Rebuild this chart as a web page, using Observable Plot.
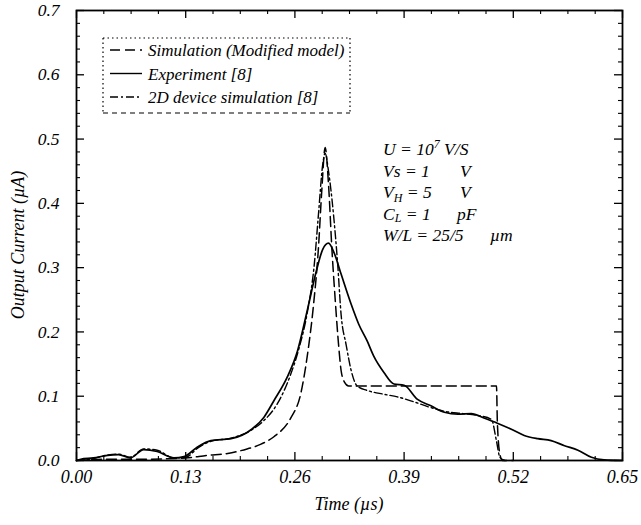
<!DOCTYPE html>
<html>
<head>
<meta charset="utf-8">
<script src="https://cdn.jsdelivr.net/npm/d3@7"></script>
<script src="https://cdn.jsdelivr.net/npm/@observablehq/plot@0.6"></script>
<style>
  html, body { margin: 0; padding: 0; background: #fff; }
  #chart svg { display: block; }
</style>
</head>
<body>
<div id="chart"></div>
<script>
// ---------- data ----------
const xTickValues = [0, 0.13, 0.26, 0.39, 0.52, 0.65];
const xTickLabels = ["0.00", "0.13", "0.26", "0.39", "0.52", "0.65"];
const yTickValues = [0, 0.1, 0.2, 0.3, 0.4, 0.5, 0.6, 0.7];
const yTickLabels = ["0.0", "0.1", "0.2", "0.3", "0.4", "0.5", "0.6", "0.7"];
const xLabel = "Time (µs)";
const yLabel = "Output Current (µA)";
const seriesNames = ["Simulation (Modified model)", "Experiment [8]", "2D device simulation [8]"];

// Simulation (Modified model) - dashed
const simTime = [0, 0.04, 0.08, 0.13, 0.156, 0.18, 0.203, 0.219, 0.235, 0.255, 0.267, 0.275, 0.282, 0.288, 0.292, 0.296, 0.300, 0.304, 0.308, 0.312, 0.315, 0.319, 0.324, 0.50, 0.501, 0.504, 0.507, 0.52];
const simCurrent = [0, 0.002, 0.002, 0.004, 0.008, 0.011, 0.018, 0.025, 0.037, 0.066, 0.104, 0.165, 0.24, 0.33, 0.42, 0.487, 0.43, 0.33, 0.25, 0.18, 0.14, 0.122, 0.116, 0.116, 0.06, 0.01, 0, 0];

// Experiment [8] - solid
const expTime = [0, 0.005, 0.02, 0.037, 0.05, 0.064, 0.08, 0.096, 0.116, 0.128, 0.144, 0.16, 0.184, 0.209, 0.223, 0.235, 0.251, 0.263, 0.275, 0.285, 0.293, 0.300, 0.307, 0.315, 0.327, 0.336, 0.346, 0.354, 0.366, 0.378, 0.390, 0.406, 0.422, 0.438, 0.454, 0.470, 0.485, 0.501, 0.517, 0.533, 0.549, 0.565, 0.581, 0.597, 0.613, 0.628, 0.650];
const expCurrent = [0, 0.002, 0.004, 0.008, 0.009, 0.004, 0.017, 0.014, 0.004, 0.006, 0.021, 0.031, 0.034, 0.049, 0.067, 0.093, 0.13, 0.17, 0.235, 0.292, 0.328, 0.338, 0.322, 0.29, 0.243, 0.212, 0.186, 0.162, 0.137, 0.119, 0.117, 0.095, 0.085, 0.075, 0.072, 0.073, 0.066, 0.058, 0.049, 0.039, 0.034, 0.031, 0.023, 0.016, 0.005, 0.001, 0];

// 2D device simulation [8] - dash-dot
const devTime = [0, 0.02, 0.035, 0.05, 0.064, 0.08, 0.096, 0.116, 0.13, 0.145, 0.16, 0.185, 0.209, 0.223, 0.239, 0.255, 0.265, 0.275, 0.283, 0.288, 0.293, 0.296, 0.300, 0.306, 0.311, 0.315, 0.321, 0.327, 0.334, 0.346, 0.366, 0.382, 0.400, 0.42, 0.44, 0.46, 0.478, 0.494, 0.500, 0.504, 0.51];
const devCurrent = [0, 0.003, 0.008, 0.01, 0.005, 0.018, 0.016, 0.004, 0.005, 0.02, 0.03, 0.035, 0.048, 0.062, 0.088, 0.134, 0.175, 0.232, 0.304, 0.382, 0.459, 0.478, 0.45, 0.382, 0.304, 0.227, 0.18, 0.14, 0.116, 0.109, 0.103, 0.099, 0.092, 0.083, 0.076, 0.073, 0.07, 0.064, 0.03, 0.005, 0];

const annotationLines = [
  {parts: [["U = 10", 0, false], ["7", -7, true], [" V/S", 7, false]], unit: null},
  {parts: [["Vs = 1", 0, false]], unit: "V"},
  {parts: [["V", 0, false], ["H", 4, true], [" = 5", -4, false]], unit: "V"},
  {parts: [["C", 0, false], ["L", 2, true], [" = 1", -2, false]], unit: "pF"},
  {parts: [["W/L = 25/5", 0, false]], unit: "µm"}
];

// ---------- build ----------
const toRows = (t, v) => t.map((d, i) => ({t: d, v: v[i]}));
const sim = toRows(simTime, simCurrent);
const exp = toRows(expTime, expCurrent);
const dev = toRows(devTime, devCurrent);

const W = 641, H = 525, mL = 76, mR = 19, mT = 10, mB = 65;
const fw = W - mL - mR, fh = H - mT - mB;
const xDom = [0, 0.65], yDom = [0, 0.7];
const majorLen = 8, minorLen = 4;
// tick lengths converted from pixels to data units
const xPer = (xDom[1] - xDom[0]) / fw, yPer = (yDom[1] - yDom[0]) / fh;
const xMinor = d3.range(0, 0.6501, 0.0325).filter(v => !xTickValues.some(m => Math.abs(m - v) < 1e-6));
const yMinor = d3.range(0, 0.7001, 0.02).filter(v => !yTickValues.some(m => Math.abs(m - v) < 1e-6));

const font = "'Liberation Serif', 'Times New Roman', serif";

const plot = Plot.plot({
  width: W, height: H,
  marginLeft: mL, marginRight: mR, marginTop: mT, marginBottom: mB,
  x: {domain: xDom},
  y: {domain: yDom},
  style: {fontFamily: font, fontStyle: "italic", fontSize: "18px", background: "#fff", color: "#000"},
  marks: [
    Plot.axisX({ticks: xTickValues, tickFormat: d => xTickLabels[xTickValues.indexOf(d)], tickSize: 0, tickPadding: 10, label: null, fontSize: 18}),
    Plot.axisY({ticks: yTickValues, tickFormat: d => yTickLabels[yTickValues.indexOf(d)], tickSize: 0, tickPadding: 17, label: null, fontSize: 17.5}),
    // inward ticks on all four sides
    Plot.ruleX(xTickValues, {x: d => d, y1: yDom[0], y2: yDom[0] + majorLen * yPer, stroke: "#000", strokeWidth: 1.3}),
    Plot.ruleX(xTickValues, {x: d => d, y1: yDom[1], y2: yDom[1] - majorLen * yPer, stroke: "#000", strokeWidth: 1.3}),
    Plot.ruleX(xMinor, {x: d => d, y1: yDom[0], y2: yDom[0] + minorLen * yPer, stroke: "#000", strokeWidth: 1.1}),
    Plot.ruleX(xMinor, {x: d => d, y1: yDom[1], y2: yDom[1] - minorLen * yPer, stroke: "#000", strokeWidth: 1.1}),
    Plot.ruleY(yTickValues, {y: d => d, x1: xDom[0], x2: xDom[0] + majorLen * xPer, stroke: "#000", strokeWidth: 1.3}),
    Plot.ruleY(yTickValues, {y: d => d, x1: xDom[1], x2: xDom[1] - majorLen * xPer, stroke: "#000", strokeWidth: 1.3}),
    Plot.ruleY(yMinor, {y: d => d, x1: xDom[0], x2: xDom[0] + minorLen * xPer, stroke: "#000", strokeWidth: 1.1}),
    Plot.ruleY(yMinor, {y: d => d, x1: xDom[1], x2: xDom[1] - minorLen * xPer, stroke: "#000", strokeWidth: 1.1}),
    Plot.line(sim, {x: "t", y: "v", stroke: "#000", strokeWidth: 1.5, strokeDasharray: "10,5", curve: "monotone-x"}),
    Plot.line(dev, {x: "t", y: "v", stroke: "#000", strokeWidth: 1.4, strokeDasharray: "8,3,2,3", curve: "monotone-x"}),
    Plot.line(exp, {x: "t", y: "v", stroke: "#000", strokeWidth: 1.7, curve: "monotone-x"}),
    Plot.frame({stroke: "#000", strokeWidth: 1.8})
  ]
});

document.getElementById("chart").appendChild(plot);

// ---------- labels, legend, annotation ----------
const svg = d3.select(plot);
const g = svg.append("g").attr("font-family", font).attr("font-style", "italic")
  .attr("fill", "#000").attr("text-anchor", "start");

g.append("text").attr("x", mL + fw / 2).attr("y", 510).attr("text-anchor", "middle")
  .attr("font-size", 18).text(xLabel);
g.append("text").attr("transform", "translate(24,245) rotate(-90)").attr("text-anchor", "middle")
  .attr("font-size", 18).text(yLabel);

// legend box
const lb = {x0: 103, x1: 350, y0: 38, y1: 113};
const lg = g.append("g").attr("stroke", "#000").attr("fill", "none");
lg.append("line").attr("x1", lb.x0).attr("x2", lb.x1).attr("y1", lb.y0).attr("y2", lb.y0).attr("stroke-width", 1.2).attr("stroke-dasharray", "1.5,3");
lg.append("line").attr("x1", lb.x0).attr("x2", lb.x0).attr("y1", lb.y0).attr("y2", lb.y1).attr("stroke-width", 1.2).attr("stroke-dasharray", "1.5,3");
lg.append("line").attr("x1", lb.x1).attr("x2", lb.x1).attr("y1", lb.y0).attr("y2", lb.y1).attr("stroke-width", 1.2).attr("stroke-dasharray", "1.5,3");
lg.append("line").attr("x1", lb.x0).attr("x2", lb.x1).attr("y1", lb.y1).attr("y2", lb.y1).attr("stroke-width", 1.2).attr("stroke-dasharray", "5,4");
const legendDash = ["10,5", null, "8,3,2,3"];
seriesNames.forEach((name, i) => {
  const y = 50 + i * 23.5;
  const l = lg.append("line").attr("x1", 110).attr("x2", 142).attr("y1", y).attr("y2", y).attr("stroke-width", 1.4);
  if (legendDash[i]) l.attr("stroke-dasharray", legendDash[i]);
  g.append("text").attr("x", 148).attr("y", y + 6).attr("font-size", 17).text(name);
});

// annotation (baselines)
const unitX = [null, 460, 460, 457, 490];
annotationLines.forEach((line, i) => {
  const y = 155 + i * 21.6;
  const t = g.append("text").attr("x", 383).attr("y", y).attr("font-size", 17.5);
  line.parts.forEach(([s, dy, small]) => {
    const ts = t.append("tspan").attr("dy", dy).text(s);
    if (small) ts.attr("font-size", 12);
  });
  if (line.unit) {
    g.append("text").attr("x", unitX[i]).attr("y", y).attr("font-size", 17.5).text(line.unit);
  }
});
</script>
</body>
</html>
